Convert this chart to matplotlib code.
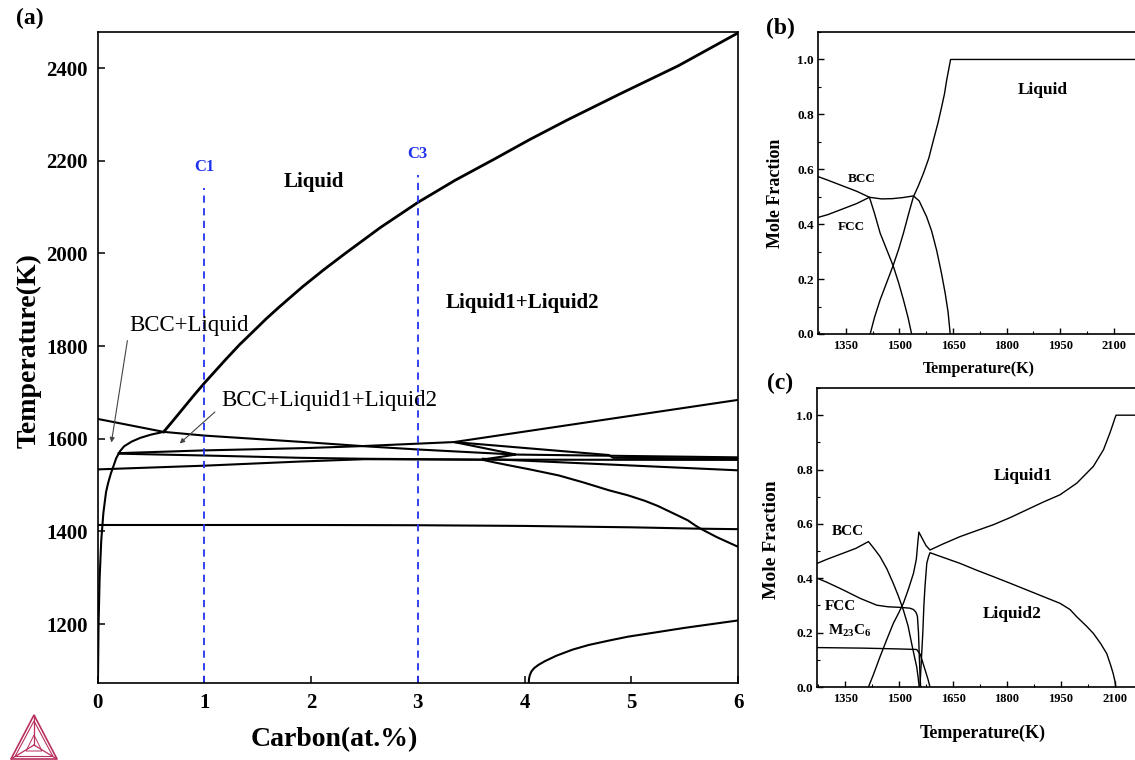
import matplotlib
matplotlib.use("Agg")
import matplotlib.pyplot as plt
from matplotlib.ticker import MultipleLocator
from matplotlib.patches import Polygon

plt.rcParams['font.family'] = ['Liberation Serif', 'DejaVu Serif']
plt.rcParams['mathtext.fontset'] = 'custom'
plt.rcParams['mathtext.rm'] = 'Liberation Serif'
plt.rcParams['mathtext.bf'] = 'Liberation Serif:bold'
plt.rcParams['mathtext.it'] = 'Liberation Serif:italic'

# ---------------- (a) isopleth: carbon content vs temperature ----------------
x_ticks_a = [0, 1, 2, 3, 4, 5, 6]
y_ticks_a = [1200, 1400, 1600, 1800, 2000, 2200, 2400]

liq_x = [0.62, 0.70, 0.80, 0.90, 1.0, 1.2, 1.33, 1.46, 1.58, 1.7, 1.92, 2.12, 2.32, 2.65, 3.0, 3.35, 3.72, 4.05, 4.40, 4.9, 5.44, 6.0]
liq_T = [1615, 1637, 1665, 1693, 1720, 1771, 1803, 1832, 1859, 1884, 1928, 1965, 2000, 2056, 2110, 2158, 2204, 2246, 2288, 2345, 2405, 2476]

bcc_x = [0.004, 0.01, 0.02, 0.035, 0.055, 0.08, 0.10, 0.125, 0.145, 0.175, 0.21, 0.25, 0.32, 0.40, 0.50, 0.62]
bcc_T = [1073, 1200, 1300, 1380, 1440, 1485, 1505, 1525, 1538, 1558, 1573, 1584, 1594, 1602, 1609, 1615]

l1_x = [0.0, 0.62, 1.0, 2.0, 2.5, 3.0, 3.5, 3.92]
l1_T = [1643, 1615, 1607, 1592, 1584, 1577, 1571, 1566]

l2_x = [0.19, 1.0, 1.95, 2.45, 3.34, 6.0]
l2_T = [1569, 1575, 1580, 1584, 1593, 1684]

l4_x = [0.19, 1.0, 1.9, 2.5, 3.6]
l4_T = [1568, 1564, 1559, 1557, 1555]

l3_x = [0.0, 1.0, 1.9, 2.5, 3.6]
l3_T = [1534, 1542, 1551, 1556, 1555]

k_v_x = [3.34, 3.92]
k_v_T = [1593, 1566]

k_s_x = [3.34, 4.79, 4.83, 6.0]
k_s_T = [1593, 1565, 1559, 1557.5]

low_v_x = [3.6, 3.92]
low_v_T = [1555, 1566]

v_right_x = [3.92, 6.0]
v_right_T = [1566, 1560]

flat_x = [3.6, 6.0]
flat_T = [1555, 1554.5]

desc_x = [3.6, 6.0]
desc_T = [1557, 1532]

curve_x = [3.6, 3.72, 3.85, 4.05, 4.32, 4.55, 4.79, 4.97, 5.13, 5.25, 5.35, 5.45, 5.53, 5.6, 5.65, 5.8, 6.0]
curve_T = [1555, 1549, 1543, 1534, 1521, 1506, 1489, 1478, 1466, 1455, 1444, 1433, 1424, 1413, 1406, 1388, 1367]

iso_x = [0.0, 2.0, 3.0, 4.0, 5.0, 5.65, 6.0]
iso_T = [1414, 1414, 1413.5, 1412, 1409, 1406, 1405]

gr_x = [4.04, 4.042, 4.05, 4.065, 4.09, 4.13, 4.19, 4.30, 4.45, 4.6, 4.8, 4.97, 5.25, 5.5, 5.75, 6.0]
gr_T = [1073, 1082, 1090, 1098, 1105, 1112, 1120, 1132, 1145, 1155, 1165, 1173, 1183, 1192, 1200, 1208]

sections_x = [1.0, 3.0]
sections_top = [2141, 2169]
sections_lab = ['C1', 'C3']

# ---------------- (b) and (c) phase fractions vs temperature ----------------
temp_ticks = [1350, 1500, 1650, 1800, 1950, 2100]
frac_ticks = [0.0, 0.2, 0.4, 0.6, 0.8, 1.0]

b_bcc_T = [1273, 1300, 1340, 1380, 1416, 1450, 1480, 1510, 1539, 1555, 1576, 1590, 1604, 1617, 1628, 1636, 1642]
b_bcc_f = [0.573, 0.56, 0.54, 0.52, 0.498, 0.492, 0.493, 0.497, 0.503, 0.485, 0.427, 0.375, 0.305, 0.225, 0.148, 0.08, 0.0]

b_fcc_T = [1273, 1300, 1340, 1380, 1416, 1430, 1446, 1465, 1483, 1498, 1511, 1524, 1534]
b_fcc_f = [0.425, 0.435, 0.455, 0.475, 0.498, 0.44, 0.367, 0.305, 0.246, 0.185, 0.125, 0.06, 0.0]

b_liq_T = [1418, 1430, 1446, 1465, 1483, 1498, 1511, 1525, 1539, 1553, 1567, 1582, 1595, 1608, 1618, 1626, 1632, 1638, 1643, 2200]
b_liq_f = [0.0, 0.06, 0.125, 0.19, 0.252, 0.31, 0.367, 0.435, 0.50, 0.54, 0.585, 0.64, 0.706, 0.77, 0.827, 0.875, 0.924, 0.965, 1.0, 1.0]

c_bcc_T = [1273, 1300, 1340, 1380, 1415, 1430, 1447, 1466, 1484, 1498, 1512, 1525, 1535, 1543, 1549, 1553, 1556]
c_bcc_f = [0.455, 0.47, 0.49, 0.51, 0.535, 0.51, 0.48, 0.435, 0.381, 0.335, 0.283, 0.225, 0.16, 0.11, 0.074, 0.035, 0.0]

c_fcc_T = [1273, 1300, 1345, 1392, 1438, 1470, 1503, 1530, 1540, 1547, 1551, 1554, 1556, 1558, 1560]
c_fcc_f = [0.40, 0.385, 0.357, 0.326, 0.301, 0.295, 0.293, 0.29, 0.285, 0.275, 0.26, 0.2, 0.12, 0.05, 0.0]

c_m23_T = [1273, 1400, 1500, 1549, 1559, 1566, 1573, 1580, 1586]
c_m23_f = [0.145, 0.143, 0.14, 0.138, 0.12, 0.09, 0.06, 0.03, 0.0]

c_liq1_T = [1415, 1430, 1447, 1466, 1484, 1498, 1512, 1526, 1540, 1548, 1552, 1555, 1565, 1575, 1586, 1620,
            1669, 1715, 1762, 1810, 1855, 1900, 1947, 1994, 2040, 2068, 2086, 2095, 2100, 2103, 2200]
c_liq1_f = [0.0, 0.05, 0.111, 0.175, 0.234, 0.27, 0.308, 0.36, 0.418, 0.47, 0.53, 0.57, 0.545, 0.52, 0.504, 0.525,
            0.553, 0.575, 0.597, 0.624, 0.652, 0.68, 0.707, 0.75, 0.812, 0.873, 0.935, 0.97, 0.99, 1.0, 1.0]

c_liq2_T = [1558, 1562, 1566, 1569, 1572, 1577, 1582, 1586, 1620, 1669, 1715, 1762, 1810, 1855, 1900, 1947,
            1975, 1994, 2020, 2040, 2060, 2077, 2088, 2095, 2100, 2102]
c_liq2_f = [0.0, 0.1, 0.2, 0.3, 0.369, 0.455, 0.48, 0.494, 0.478, 0.455, 0.43, 0.406, 0.381, 0.357, 0.333, 0.308,
            0.285, 0.258, 0.225, 0.197, 0.16, 0.123, 0.08, 0.049, 0.02, 0.0]

# ---------------------------------------------------------------------------
fig = plt.figure(figsize=(11.35, 7.6), dpi=100)
W, H = 1135.0, 760.0


def px_box(left, top, right, bottom):
    return [left / W, 1 - bottom / H, (right - left) / W, (bottom - top) / H]


ax = fig.add_axes(px_box(97.5, 32, 738, 683))
lw_a = 1.5
ax.plot(liq_x, liq_T, color='k', lw=2.0)
for xs, ts in [(bcc_x, bcc_T), (l1_x, l1_T), (l2_x, l2_T), (l4_x, l4_T), (l3_x, l3_T),
               (k_v_x, k_v_T), (k_s_x, k_s_T), (low_v_x, low_v_T), (v_right_x, v_right_T),
               (flat_x, flat_T), (desc_x, desc_T), (curve_x, curve_T), (iso_x, iso_T), (gr_x, gr_T)]:
    ax.plot(xs, ts, color='k', lw=lw_a, solid_capstyle='butt')

for xs, top, lab in zip(sections_x, sections_top, sections_lab):
    ax.plot([xs, xs], [1073, top], color='#2233ee', lw=1.3, dashes=(4, 3))
    ax.text(xs, top + 45, lab, color='#2233ee', fontsize=12, fontweight='bold', ha='center', va='center')

ax.set_xlim(0, 6)
ax.set_ylim(1073, 2478)
ax.set_xticks(x_ticks_a)
ax.set_yticks(y_ticks_a)
ax.tick_params(direction='in', length=5, width=1.1, labelsize=15, pad=7)
for lab in ax.get_xticklabels() + ax.get_yticklabels():
    lab.set_fontweight('bold')
for sp in ax.spines.values():
    sp.set_linewidth(1.2)

ax.text(2.03, 2154, 'Liquid', fontsize=15, fontweight='bold', ha='center', va='center')
ax.text(3.98, 1893, 'Liquid1+Liquid2', fontsize=15, fontweight='bold', ha='center', va='center')
ax.text(0.86, 1845, 'BCC+Liquid', fontsize=16.5, ha='center', va='center')
ax.text(2.17, 1683, 'BCC+Liquid1+Liquid2', fontsize=16.5, ha='center', va='center')
arrow_kw = dict(arrowstyle='-|>', color='#444444', lw=0.8, mutation_scale=7, shrinkA=0, shrinkB=0)
ax.annotate('', xy=(0.13, 1592), xytext=(0.28, 1812), arrowprops=arrow_kw)
ax.annotate('', xy=(0.77, 1590), xytext=(1.10, 1658), arrowprops=arrow_kw)

ax.set_xlabel('Carbon(at.%)', fontsize=20, fontweight='bold')
ax.set_ylabel('Temperature(K)', fontsize=20, fontweight='bold')
ax.xaxis.set_label_coords(0.37, -0.068)
ax.yaxis.set_label_coords(-0.087, 0.511)


def style_fraction_axes(a, xlab_xy, ylab_xy, xl_size, yl_size):
    a.set_xlim(1272, 2200)
    a.set_ylim(0, 1.1)
    a.set_xticks(temp_ticks)
    a.set_yticks(frac_ticks)
    a.set_yticklabels(['%.1f' % v for v in frac_ticks])
    a.xaxis.set_minor_locator(MultipleLocator(75))
    a.yaxis.set_minor_locator(MultipleLocator(0.1))
    a.tick_params(which='major', direction='in', length=4, width=1.0, pad=4)
    a.tick_params(which='minor', direction='in', length=2.5, width=0.8)
    a.tick_params(axis='x', labelsize=9)
    a.tick_params(axis='y', labelsize=9.5, pad=3)
    for lab in a.get_xticklabels() + a.get_yticklabels():
        lab.set_fontweight('bold')
    for sp in a.spines.values():
        sp.set_linewidth(1.2)
    a.set_xlabel('Temperature(K)', fontsize=xl_size, fontweight='bold')
    a.set_ylabel('Mole Fraction', fontsize=yl_size, fontweight='bold')
    a.xaxis.set_label_coords(*xlab_xy)
    a.yaxis.set_label_coords(*ylab_xy)


# (b)
axb = fig.add_axes(px_box(818, 32, 818 + 331.6, 334))
for ts, fs in [(b_bcc_T, b_bcc_f), (b_fcc_T, b_fcc_f), (b_liq_T, b_liq_f)]:
    axb.plot(ts, fs, color='k', lw=1.0)
style_fraction_axes(axb, (0.486, -0.089), (-0.1025, 0.467), 11.5, 13)
axb.text(1901, 0.887, 'Liquid', fontsize=12.5, fontweight='bold', ha='center', va='center')
axb.text(1394, 0.564, 'BCC', fontsize=9.5, fontweight='bold', ha='center', va='center')
axb.text(1364, 0.39, 'FCC', fontsize=9.5, fontweight='bold', ha='center', va='center')

# (c)
axc = fig.add_axes(px_box(817, 388, 817 + 334, 687))
for ts, fs in [(c_bcc_T, c_bcc_f), (c_fcc_T, c_fcc_f), (c_m23_T, c_m23_f),
               (c_liq1_T, c_liq1_f), (c_liq2_T, c_liq2_f)]:
    axc.plot(ts, fs, color='k', lw=1.0)
style_fraction_axes(axc, (0.497, -0.127), (-0.111, 0.492), 13, 14)
axc.text(1359, 0.572, 'BCC', fontsize=11, fontweight='bold', ha='center', va='center')
axc.text(1336, 0.295, 'FCC', fontsize=11, fontweight='bold', ha='center', va='center')
axc.text(1364, 0.205, r'$\mathbf{M_{23}C_{6}}$', fontsize=11, ha='center', va='center')
axc.text(1845, 0.775, 'Liquid1', fontsize=12.5, fontweight='bold', ha='center', va='center')
axc.text(1813, 0.27, 'Liquid2', fontsize=12.5, fontweight='bold', ha='center', va='center')

# panel letters
fig.text(30 / W, 1 - 18 / H, '(a)', fontsize=17, fontweight='bold', ha='center', va='center')
fig.text(780 / W, 1 - 28 / H, '(b)', fontsize=17, fontweight='bold', ha='center', va='center')
fig.text(780 / W, 1 - 383 / H, '(c)', fontsize=17, fontweight='bold', ha='center', va='center')

# small triangular logo, bottom left
logo = fig.add_axes(px_box(4, 708, 64, 762))
logo.set_xlim(0, 60)
logo.set_ylim(0, 54)
logo.axis('off')
red = '#b8305e'
outer = [(7, 3), (30, 47), (53, 3)]
inner = [(11, 5.5), (30, 41), (49, 5.5)]
centre = (30, 17)
logo.add_patch(Polygon(outer, closed=True, fill=False, ec=red, lw=1.2))
logo.add_patch(Polygon(inner, closed=True, fill=False, ec=red, lw=0.8))
for vx, vy in outer:
    logo.plot([centre[0], vx], [centre[1], vy], color=red, lw=0.9)
inner_tri = [(22, 11), (30, 27), (38, 11)]
logo.add_patch(Polygon(inner_tri, closed=True, fill=False, ec=red, lw=0.7))

fig.savefig('out.png', dpi=100)
